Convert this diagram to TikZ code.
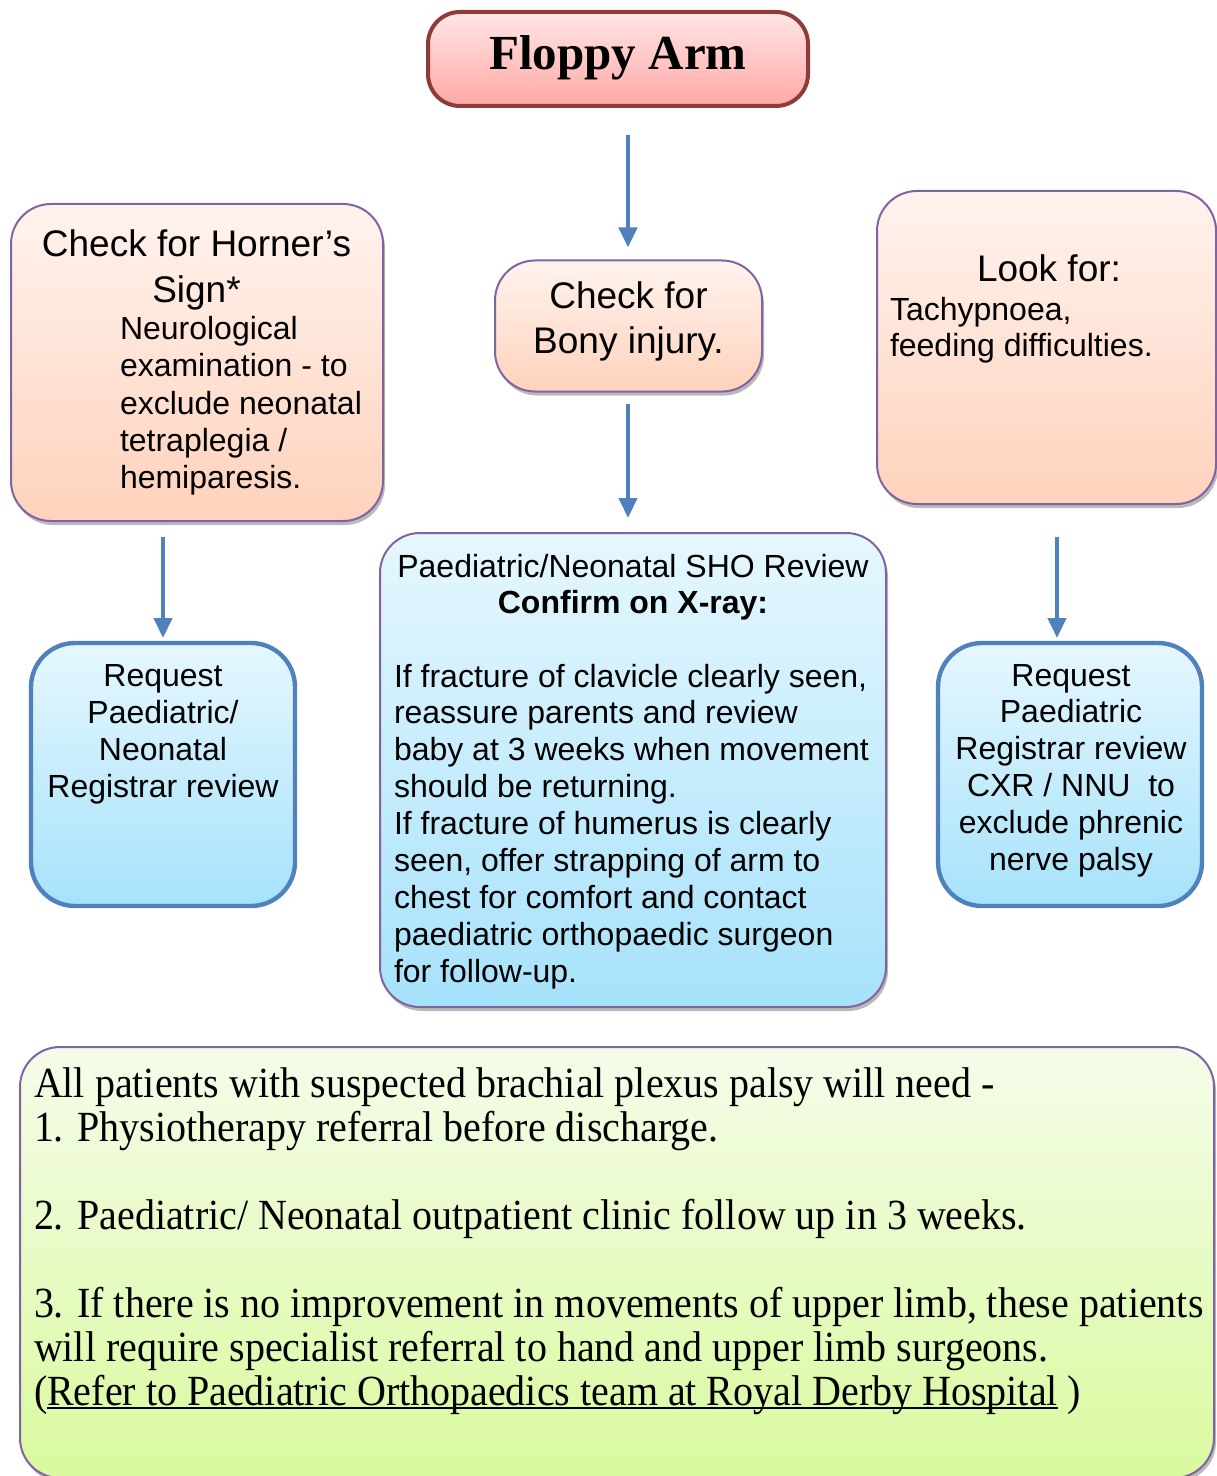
\documentclass[tikz,border=0pt]{standalone}
\usepackage{fontspec}
\setmainfont{Liberation Sans}
\newfontfamily\serifnote[FakeStretch=0.93]{Liberation Serif}
\newfontfamily\seriftitle{Liberation Serif}
\usetikzlibrary{arrows.meta,shadows}
\definecolor{boxpurple}{HTML}{8064A2}
\definecolor{arrowblue}{HTML}{4F81BD}
\definecolor{titleborder}{HTML}{8E3B3B}
\definecolor{titletop}{HTML}{FFE6E6}
\definecolor{titlebot}{HTML}{FFA8A5}
\definecolor{peachtop}{HTML}{FFF3EE}
\definecolor{peachbot}{HTML}{FFD2BC}
\definecolor{bluetop}{HTML}{E6F7FE}
\definecolor{bluebot}{HTML}{A6E2FB}
\definecolor{greentop}{HTML}{F5FCEA}
\definecolor{greenbot}{HTML}{D9FA9E}
\newlength\ulwd
\newcommand\myul[1]{\settowidth\ulwd{#1}\rlap{\rule[-2pt]{\ulwd}{1pt}}#1}
\tikzset{
  every node/.style={inner sep=0pt, outer sep=0pt},
  shad/.style={drop shadow={shadow xshift=1pt, shadow yshift=-2pt, opacity=0.45, fill=black!60}},
  titlebox/.style={draw=titleborder, line width=2pt, rounded corners=16pt,
    top color=titletop, bottom color=titlebot},
  peachbox/.style={draw=boxpurple, line width=1pt, rounded corners=20pt,
    top color=peachtop, bottom color=peachbot, shad},
  bluebox/.style={draw=boxpurple, line width=1pt, rounded corners=20pt,
    top color=bluetop, bottom color=bluebot, shad},
  bluethick/.style={draw=arrowblue, line width=2.2pt, rounded corners=22pt,
    top color=bluetop, bottom color=bluebot},
  greenbox/.style={draw=boxpurple, line width=1pt, rounded corners=20pt,
    top color=greentop, bottom color=greenbot, shad},
  arr/.style={draw=arrowblue, line width=2.2pt, -{Triangle[length=10pt,width=9pt]}},
  sansbig/.style={font=\fontsize{18.5}{23}\selectfont},
  sansmid/.style={font=\fontsize{16}{18.5}\selectfont},
}
\begin{document}
\begin{tikzpicture}[x=0.5pt,y=-0.5pt]
\useasboundingbox (0,0) rectangle (1216,1476);

% boxes
\node[titlebox, minimum width=190pt, minimum height=47pt] (title) at (618,59) {};
\node[peachbox, minimum width=133.5pt, minimum height=65.5pt] (bony) at (628.5,326) {};
\node[peachbox, minimum width=186pt, minimum height=158.5pt] (horner) at (197,362.5) {};
\node[peachbox, minimum width=169.5pt, minimum height=156.5pt] (look) at (1046.5,347.5) {};
\node[bluethick, minimum width=132pt, minimum height=131.5pt] (lblue) at (163,774.5) {};
\node[bluethick, minimum width=132pt, minimum height=131.5pt] (rblue) at (1070,774.5) {};
\node[bluebox, minimum width=253pt, minimum height=237pt] (sho) at (633,770) {};
\node[greenbox, minimum width=597pt, minimum height=215.5pt] (note) at (617,1262.5) {};

% texts
\node[font=\seriftitle\bfseries\fontsize{24.5}{28}\selectfont, anchor=base] (titleT) at (618,70) {Floppy Arm};
\node[sansbig, anchor=base] (bonyT) at (628.5,309) {\parbox[t]{130pt}{\fontsize{18.5}{22}\selectfont\centering Check for\\Bony injury.}};
\node[sansbig, anchor=base] (hornerT) at (196.5,257) {\parbox[t]{180pt}{\centering Check for Horner’s\\Sign*}};
\node[sansmid, anchor=base west] (hornerB) at (120,340) {\parbox[t]{140pt}{\raggedright Neurological\\examination - to\\exclude neonatal\\tetraplegia /\\hemiparesis.}};
\node[sansbig, anchor=base] (lookT) at (1049,282) {Look for:};
\node[sansmid, anchor=base west] (lookB) at (890,321) {\parbox[t]{160pt}{\fontsize{16}{18}\selectfont\raggedright Tachypnoea,\\feeding difficulties.}};
\node[sansmid, anchor=base] (shoT) at (633,577) {\parbox[t]{250pt}{\fontsize{16}{18}\selectfont\centering Paediatric/Neonatal SHO Review\\\textbf{Confirm on X-ray:}}};
\node[sansmid, anchor=base west] (shoB) at (394,687) {\parbox[t]{270pt}{\fontsize{16}{18.44}\selectfont\raggedright If fracture of clavicle clearly seen,\\reassure parents and review\\baby at 3 weeks when movement\\should be returning.\\If fracture of humerus is clearly\\seen, offer strapping of arm to\\chest for comfort and contact\\paediatric orthopaedic surgeon\\for follow-up.}};
\node[sansmid, anchor=base] (lblueT) at (163,686) {\parbox[t]{130pt}{\centering Request\\Paediatric/\\Neonatal\\Registrar review}};
\node[sansmid, anchor=base] (rblueT) at (1071,686) {\parbox[t]{130pt}{\fontsize{16}{18.4}\selectfont\centering Request\\Paediatric\\Registrar review\\CXR / NNU\ \ to\\exclude phrenic\\nerve palsy}};
\node[anchor=base west] (noteT) at (34,1097) {\parbox[t]{600pt}{\serifnote\fontsize{21.5}{22}\selectfont\raggedright
All patients with suspected brachial plexus palsy will need -\\
1. Physiotherapy referral before discharge.\\[22pt]
2. Paediatric/ Neonatal outpatient clinic follow up in 3 weeks.\\[22pt]
3. If there is no improvement in movements of upper limb, these patients\\
will require specialist referral to hand and upper limb surgeons.\\
(\myul{Refer to Paediatric Orthopaedics team at Royal Derby Hospital} )}};

% connectors
\coordinate (cx) at (628,0);
\coordinate (lx) at (163,0);
\coordinate (rx) at (1057,0);
\draw[arr, shorten <=14.5pt, shorten >=6.5pt] (title.south -| cx) -- (bony.north -| cx);
\draw[arr, shorten <=6pt, shorten >=7.5pt] (bony.south -| cx) -- (sho.north -| cx);
\draw[arr, shorten <=8pt, shorten >=2.5pt] (horner.south -| lx) -- (lblue.north -| lx);
\draw[arr, shorten <=16.5pt, shorten >=2.5pt] (look.south -| rx) -- (rblue.north -| rx);
\end{tikzpicture}
\end{document}
